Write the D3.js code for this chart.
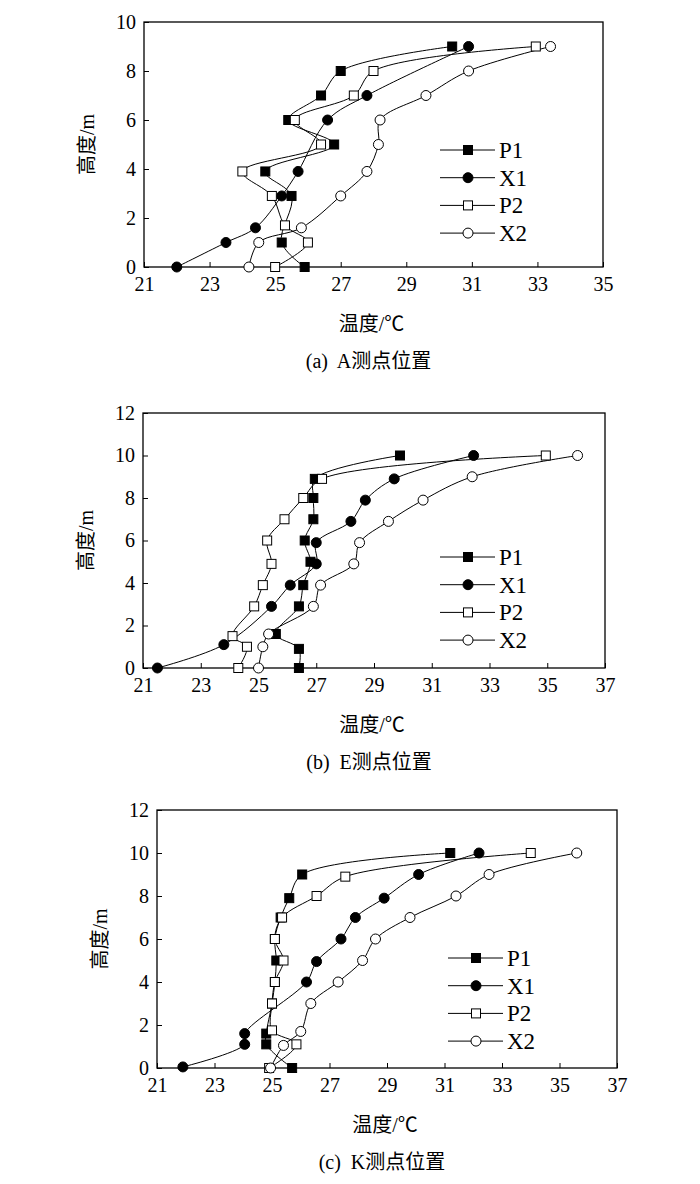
<!DOCTYPE html>
<html><head><meta charset="utf-8">
<script src="https://cdn.jsdelivr.net/npm/d3@7"></script>
<style>body{margin:0;background:#fff}</style>
</head><body><svg width="700" height="1184"></svg>
<script>
// temperature profiles, [temp, height]
var panels = [
  {left:144, right:603, top:22, bottom:267, xmax:35, ymax:10, caption:"(a)  A测点位置", legX:440, legY:150,
   series:{
    P1:[[25.9,0],[25.2,1],[25.5,2.9],[24.7,3.9],[26.8,5],[25.4,6],[26.4,7],[27.0,8],[30.4,9]],
    X1:[[22.0,0],[23.5,1],[24.4,1.6],[25.2,2.9],[25.7,3.9],[26.6,6],[27.8,7],[30.9,9]],
    P2:[[25.0,0],[26.0,1],[25.3,1.7],[24.9,2.9],[24.0,3.9],[26.4,5],[25.6,6],[27.4,7],[28.0,8],[32.95,9]],
    X2:[[24.2,0],[24.5,1],[25.8,1.6],[27.0,2.9],[27.8,3.9],[28.15,5],[28.2,6],[29.6,7],[30.9,8],[33.4,9]]}},
  {left:143, right:605, top:413, bottom:668, xmax:37, ymax:12, caption:"(b)  E测点位置", legX:440, legY:557,
   series:{
    P1:[[26.4,0],[26.4,0.9],[25.6,1.6],[26.4,2.9],[26.55,3.9],[26.8,5],[26.6,6],[26.9,7],[26.9,8],[26.95,8.9],[29.9,10]],
    X1:[[21.5,0],[23.8,1.1],[25.45,2.9],[26.1,3.9],[27.0,4.9],[27.0,5.9],[28.2,6.9],[28.7,7.9],[29.7,8.9],[32.45,10]],
    P2:[[24.3,0],[24.6,1],[24.1,1.5],[24.85,2.9],[25.15,3.9],[25.45,4.9],[25.3,6],[25.9,7],[26.55,8],[27.2,8.9],[34.95,10]],
    X2:[[25.0,0],[25.15,1],[25.35,1.6],[26.9,2.9],[27.15,3.9],[28.3,4.9],[28.5,5.9],[29.5,6.9],[30.7,7.9],[32.4,9],[36.05,10]]}},
  {left:157, right:617, top:810, bottom:1068, xmax:37, ymax:12, caption:"(c)  K测点位置", legX:448, legY:958,
   series:{
    P1:[[25.7,0],[24.8,1.1],[24.8,1.6],[25.0,3],[25.1,4],[25.15,5],[25.1,6],[25.3,7],[25.6,7.9],[26.05,9],[31.2,10]],
    X1:[[21.9,0.05],[24.05,1.1],[24.05,1.6],[26.2,4],[26.55,4.95],[27.4,6],[27.9,7],[28.9,7.9],[30.1,9],[32.2,10]],
    P2:[[24.9,0],[25.85,1.1],[25.0,1.75],[25.0,3],[25.1,4],[25.4,5],[25.1,6],[25.35,7],[26.55,8],[27.55,8.9],[34.0,10]],
    X2:[[24.95,0],[25.4,1.05],[26.0,1.7],[26.35,3],[27.3,4],[28.15,5],[28.6,6],[29.8,7],[31.4,8],[32.55,9],[35.6,10]]}}
];

var FONT = "'Liberation Serif', 'Times New Roman', 'Noto Sans CJK SC', serif";
var svg = d3.select("svg");
var names = ["P1","X1","P2","X2"];

function marker(g, name, x, y) {
  var fill = (name == "P1" || name == "X1") ? "#000" : "#fff";
  if (name[0] == "P") {
    g.append("rect").attr("x", x-4.5).attr("y", y-4.5).attr("width", 9).attr("height", 9)
      .attr("fill", fill).attr("stroke", "#000").attr("stroke-width", 1);
  } else {
    g.append("circle").attr("cx", x).attr("cy", y).attr("r", 5)
      .attr("fill", fill).attr("stroke", "#000").attr("stroke-width", 1);
  }
}

panels.forEach(function(p) {
  var x = d3.scaleLinear().domain([21, p.xmax]).range([p.left, p.right]);
  var y = d3.scaleLinear().domain([0, p.ymax]).range([p.bottom, p.top]);
  var g = svg.append("g");

  g.append("g").attr("transform", "translate(0," + p.bottom + ")")
    .call(d3.axisBottom(x).tickValues(d3.range(21, p.xmax + 1, 2)).tickSizeInner(-5).tickSizeOuter(0).tickPadding(10))
    .call(function(a){ a.attr("font-family", FONT); a.select(".domain").remove();
      a.selectAll("text").attr("font-size", 20).attr("font-family", FONT); });
  g.append("g").attr("transform", "translate(" + p.left + ",0)")
    .call(d3.axisLeft(y).tickValues(d3.range(0, p.ymax + 1, 2)).tickSizeInner(-5).tickSizeOuter(0).tickPadding(8))
    .call(function(a){ a.attr("font-family", FONT); a.select(".domain").remove();
      a.selectAll("text").attr("font-size", 20).attr("font-family", FONT); });

  g.append("rect").attr("x", p.left).attr("y", p.top).attr("width", p.right - p.left)
    .attr("height", p.bottom - p.top).attr("fill", "none").attr("stroke", "#000").attr("stroke-width", 1.3);

  var line = d3.line().x(function(d){return x(d[0]);}).y(function(d){return y(d[1]);})
    .curve(d3.curveCatmullRom.alpha(0.5));
  names.forEach(function(n) {
    g.append("path").attr("d", line(p.series[n])).attr("fill", "none").attr("stroke", "#000").attr("stroke-width", 1);
  });
  names.forEach(function(n) {
    p.series[n].forEach(function(d){ marker(g, n, x(d[0]), y(d[1])); });
  });

  // legend
  names.forEach(function(n, i) {
    var ly = p.legY + i * 27.7;
    g.append("line").attr("x1", p.legX).attr("x2", p.legX + 55).attr("y1", ly).attr("y2", ly).attr("stroke", "#000");
    marker(g, n, p.legX + 28, ly);
    g.append("text").attr("x", p.legX + 59).attr("y", ly + 8).attr("font-size", 23)
      .attr("font-family", FONT).text(n);
  });

  var cx = (p.left + p.right) / 2;
  g.append("text").attr("x", cx - 2).attr("y", p.bottom + 64).attr("text-anchor", "middle")
    .attr("font-size", 20).attr("font-family", FONT).text("温度/℃");
  g.append("text").attr("x", cx - 5).attr("y", p.bottom + 101).attr("text-anchor", "middle")
    .attr("font-size", 20).attr("font-family", FONT).attr("xml:space", "preserve").style("white-space", "pre")
    .text(p.caption);
  g.append("text").attr("transform", "translate(" + (p.left - 50) + "," + ((p.top + p.bottom) / 2) + ") rotate(-90)")
    .attr("text-anchor", "middle").attr("font-size", 20).attr("font-family", FONT).text("高度/m");
});
</script></body></html>
